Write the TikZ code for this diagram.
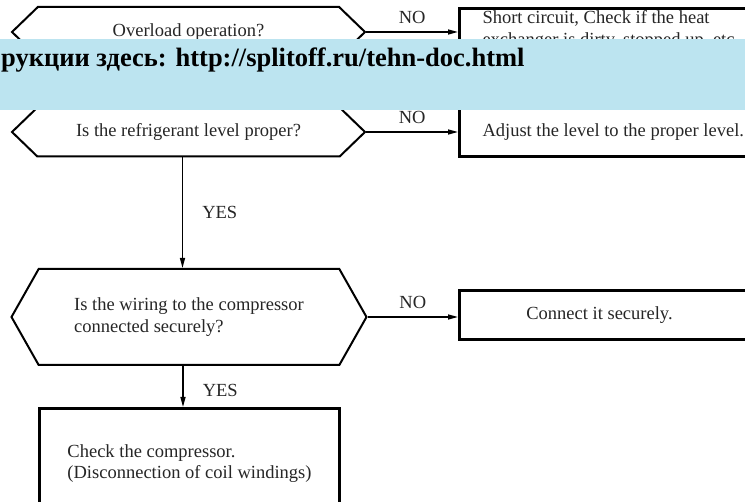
\documentclass[tikz,border=0pt]{standalone}
\usepackage{fontspec}
\setmainfont{Liberation Serif}
\usetikzlibrary{shapes.symbols,arrows.meta,positioning,calc}
\definecolor{bannerblue}{RGB}{188,228,240}
\newcommand{\chartfont}{\fontsize{18.5pt}{21.5pt}\selectfont}

\begin{document}
\begin{tikzpicture}[x=1pt,y=-1pt,
  decision/.style={draw,shape=signal,signal to=west and east,line width=2pt,inner sep=0pt,align=flush left,font=\chartfont,text=black!85},
  action/.style={draw,rectangle,line width=3pt,inner xsep=23pt,align=flush left,font=\chartfont,text=black!85},
  flow/.style={line width=1.5pt,-{Triangle[length=10pt,width=5pt]}},
  answer/.style={font=\chartfont,text=black!85,inner sep=2pt}]
\clip (0,0) rectangle (745,502);
\fill[white] (0,0) rectangle (745,502);

\node[decision,signal pointer angle=88,minimum width=353pt,minimum height=50pt] (hex1) at (188.5,32) {Overload operation?};
\node[decision,signal pointer angle=88,minimum width=353pt,minimum height=49pt] (hex2) at (188.5,132) {Is the refrigerant level proper?};
\node[decision,signal pointer angle=121,minimum width=355pt,minimum height=96pt] (hex3) at (189,317) {Is the wiring to the compressor\\connected securely?};

\node[action,anchor=north west,text width=290pt,inner ysep=2pt] (box1) at (458,7) {Short circuit, Check if the heat\\exchanger is dirty, stopped up, etc.};
\node[action,anchor=west,text width=290pt,minimum height=50pt] (box2) at (458,132) {Adjust the level to the proper level.};
\node[action,anchor=west,text width=290pt,minimum height=49pt] (box3) at (458,315) {\makebox[234pt]{Connect it securely.}};
\node[action,anchor=north west,minimum width=300pt,minimum height=110pt] (box4) at (38,407) {Check the compressor.\\(Disconnection of coil windings)};

% NO branches
\draw[flow] (hex1.east) -- (hex1.east -| box1.west) node[midway,above=6pt,answer] {NO};
\draw[flow] (hex2.east) -- (hex2.east -| box2.west) node[midway,above=6pt,answer] {NO};
\draw[flow] (hex3.east) -- (hex3.east -| box3.west) node[midway,above=6pt,answer] {NO};

% YES branches
\draw[flow] ([xshift=-6pt]hex2.south) -- ([xshift=-6pt]hex2.south |- hex3.north) node[midway,right=17pt,answer] {YES};
\draw[flow] ([xshift=-6pt]hex3.south) -- ([xshift=-6pt]hex3.south |- box4.north) node[pos=0.6,right=17pt,answer] {YES};

% banner
\fill[bannerblue] (0,39) rectangle (745,110);
\node[anchor=base west,inner sep=0pt,font=\fontsize{26.5pt}{30pt}\selectfont\bfseries] (wmtext) at (1,67) {рукции здесь: http://splitoff.ru/tehn-doc.html};
\end{tikzpicture}
\end{document}
